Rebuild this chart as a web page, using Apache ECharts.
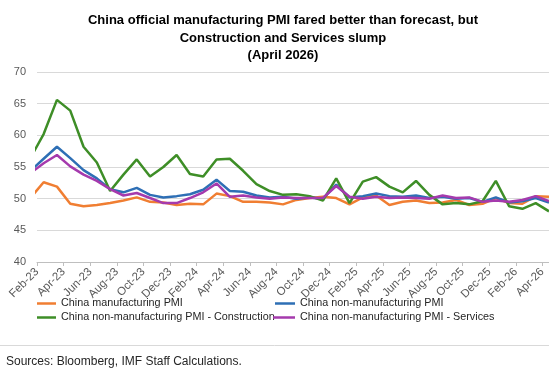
<!DOCTYPE html>
<html><head><meta charset="utf-8">
<script src="https://cdn.jsdelivr.net/npm/echarts@6/dist/echarts.min.js"></script>
<style>html,body{margin:0;padding:0;background:#fff}#c{width:549px;height:371px}</style>
</head><body><div id="c"></div>
<script>
// Monthly observations, Jan-23 .. Apr-26 (Jan-23 sits just left of the plotted window)
const months = ['Jan-23','Feb-23','Mar-23','Apr-23','May-23','Jun-23','Jul-23','Aug-23','Sep-23','Oct-23','Nov-23','Dec-23',
  'Jan-24','Feb-24','Mar-24','Apr-24','May-24','Jun-24','Jul-24','Aug-24','Sep-24','Oct-24','Nov-24','Dec-24',
  'Jan-25','Feb-25','Mar-25','Apr-25','May-25','Jun-25','Jul-25','Aug-25','Sep-25','Oct-25','Nov-25','Dec-25',
  'Jan-26','Feb-26','Mar-26','Apr-26'];
const tickLabels = ['Feb-23','Apr-23','Jun-23','Aug-23','Oct-23','Dec-23','Feb-24','Apr-24','Jun-24','Aug-24',
  'Oct-24','Dec-24','Feb-25','Apr-25','Jun-25','Aug-25','Oct-25','Dec-25','Feb-26','Apr-26'];
const yTicks = [40, 45, 50, 55, 60, 65, 70];

const manufacturing = [50.1,52.6,51.9,49.2,48.8,49.0,49.3,49.7,50.2,49.5,49.4,49.0,
  49.2,49.1,50.8,50.4,49.5,49.5,49.4,49.1,49.8,50.1,50.3,50.1,
  49.1,50.2,50.5,49.0,49.5,49.7,49.3,49.4,49.8,49.0,49.2,50.1,
  49.3,49.2,50.4,50.3];
const nonManufacturing = [54.4,56.3,58.2,56.4,54.5,53.2,51.5,51.0,51.7,50.6,50.2,50.4,
  50.7,51.4,53.0,51.2,51.1,50.5,50.2,50.3,50.0,50.2,50.0,52.2,
  50.2,50.4,50.8,50.4,50.3,50.5,50.1,50.3,50.0,50.1,49.5,50.2,
  49.4,49.6,50.1,49.4];
const construction = [56.4,60.2,65.6,63.9,58.2,55.7,51.2,53.8,56.2,53.5,55.0,56.9,
  53.9,53.5,56.2,56.3,54.4,52.3,51.2,50.6,50.7,50.4,49.7,53.2,
  49.3,52.7,53.4,51.9,51.0,52.8,50.6,49.1,49.3,49.1,49.6,52.8,
  48.8,48.4,49.3,48.0];
const services = [54.0,55.6,56.9,55.1,53.8,52.8,51.5,50.5,50.9,50.1,49.3,49.3,
  50.1,51.0,52.4,50.3,50.5,50.2,50.0,50.2,50.1,50.1,50.1,52.0,
  50.3,50.0,50.3,50.1,50.2,50.1,50.0,50.5,50.1,50.2,49.5,49.7,
  49.5,49.8,50.4,49.6];

const names = ['China manufacturing PMI','China non-manufacturing PMI',
  'China non-manufacturing PMI - Construction','China non-manufacturing PMI - Services'];
const colors = ['#F07E32','#2E6FB5','#3E8E27','#A53AAD'];
const FONT = '"Liberation Sans", Arial, sans-serif';

// x position: months since 1 Feb 2023, each observation plotted mid-month
const pts = arr => arr.map((v, i) => [i - 0.5, v]);
const tickValues = tickLabels.map((_, k) => 2 * k);

const chart = echarts.init(document.getElementById('c'), null, {renderer: 'canvas'});
const mk = (name, data, color) => ({
  name, type: 'line', data: pts(data), symbol: 'none', clip: true,
  lineStyle: {color, width: 2.5}, itemStyle: {color}, emphasis: {disabled: true}
});
const lg = (name, left, top, w) => ({
  data: [name], left, top, padding: 0, icon: 'rect', itemWidth: w, itemHeight: 2.5,
  selectedMode: false, textStyle: {fontFamily: FONT, fontSize: 10.8, color: '#262626'}
});
chart.setOption({
  animation: false,
  backgroundColor: '#fff',
  color: colors,
  grid: {left: 37, top: 72, right: 0, bottom: 109, containLabel: false, outerBoundsMode: 'none'},
  xAxis: {
    type: 'value', min: 0, max: 38.5, interval: 2,
    axisLine: {show: true, lineStyle: {color: '#BFBFBF', width: 1}},
    axisTick: {show: true, length: 4, lineStyle: {color: '#BFBFBF'}, customValues: tickValues},
    splitLine: {show: false},
    axisLabel: {
      customValues: tickValues, rotate: 45, margin: 8,
      fontFamily: FONT, fontSize: 11.5, color: '#595959',
      formatter: v => tickLabels[Math.round(v / 2)] || ''
    }
  },
  yAxis: {
    type: 'value', min: yTicks[0], max: yTicks[yTicks.length - 1], interval: 5,
    axisLine: {show: false}, axisTick: {show: false},
    splitLine: {lineStyle: {color: '#D9D9D9', width: 1}},
    axisLabel: {margin: 11, fontFamily: FONT, fontSize: 11, color: '#595959'}
  },
  legend: [
    lg(names[0], 37, 298, 19),
    lg(names[1], 275, 298, 20),
    lg(names[2], 37, 312, 19),
    lg(names[3], 273, 312, 22)
  ],
  series: [
    mk(names[0], manufacturing, colors[0]),
    mk(names[1], nonManufacturing, colors[1]),
    mk(names[2], construction, colors[2]),
    mk(names[3], services, colors[3])
  ],
  graphic: [
    {type: 'text', x: 283, y: 12, silent: true, style: {
      text: 'China official manufacturing PMI fared better than forecast, but\nConstruction and Services slump\n(April 2026)',
      font: 'bold 13px ' + FONT, fill: '#000', align: 'center', verticalAlign: 'top', lineHeight: 17.5}},
    {type: 'line', silent: true, shape: {x1: 0, y1: 345.5, x2: 549, y2: 345.5},
      style: {stroke: '#D9D9D9', lineWidth: 1}},
    {type: 'text', x: 6, y: 362, silent: true, style: {
      text: 'Sources: Bloomberg, IMF Staff Calculations.',
      font: '12px ' + FONT, fill: '#262626', align: 'left', verticalAlign: 'middle'}}
  ]
});
</script></body></html>
